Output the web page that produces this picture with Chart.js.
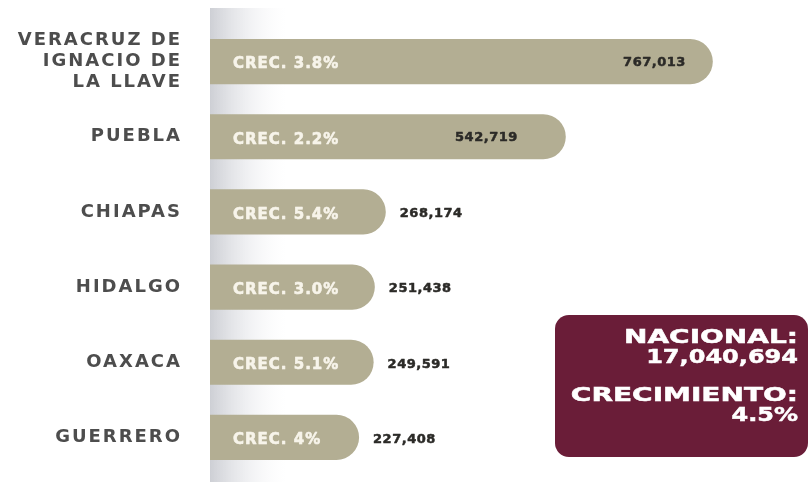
<!DOCTYPE html>
<html lang="es">
<head>
<meta charset="utf-8">
<title>Crecimiento por estado</title>
<script src="https://cdn.jsdelivr.net/npm/chart.js@4.4.1/dist/chart.umd.min.js"></script>
<style>
  html, body { margin: 0; padding: 0; background: #fff; }
  .wrap { position: relative; width: 811px; height: 482px; overflow: hidden; }
  #estadosChart { position: absolute; left: 0; top: 0; }
  .nacional {
    position: absolute; left: 555px; top: 315px; width: 253px; height: 142px;
    background: #6a1d38; border-radius: 14px; box-sizing: border-box;
    padding: 11px 10px 0 0; color: #fff;
    font-family: "DejaVu Sans", sans-serif; font-weight: bold;
    font-size: 20px; line-height: 20px;
    -webkit-text-stroke: 0.5px #fff;
  }
  .nacional div { text-align: right; transform: scaleX(1.4); transform-origin: right center; white-space: nowrap; }
  .nacional div.cifra { transform: scaleX(1.2); }
  .nacional .gap { height: 18px; }
</style>
</head>
<body>
<div class="wrap">
  <canvas id="estadosChart" width="811" height="482"></canvas>
  <div class="nacional">
    <div>NACIONAL:</div>
    <div class="cifra">17,040,694</div>
    <div class="gap"></div>
    <div>CRECIMIENTO:</div>
    <div class="cifra">4.5%</div>
  </div>
</div>
<script>
// Estados con mayor población
const estados = [['VERACRUZ DE', 'IGNACIO DE', 'LA LLAVE'], 'PUEBLA', 'CHIAPAS', 'HIDALGO', 'OAXACA', 'GUERRERO'];
const poblacion = [767013, 542719, 268174, 251438, 249591, 227408];
const crecimiento = ['3.8%', '2.2%', '5.4%', '3.0%', '5.1%', '4%'];

const fuente = '"DejaVu Sans", sans-serif';

// Texto más ancho en todo el lienzo
const espaciadoPlugin = {
    id: 'espaciado',
    beforeDraw(chart) {
        chart.ctx.letterSpacing = '2px';
    }
};

// Franja gris degradada detrás de las barras
const franjaPlugin = {
    id: 'franja',
    beforeDatasetsDraw(chart) {
        const { ctx } = chart;
        const x0 = chart.scales.x.getPixelForValue(0);
        const g = ctx.createLinearGradient(x0, 0, x0 + 85, 0);
        g.addColorStop(0, 'rgba(200,202,208,0.9)');
        g.addColorStop(0.45, 'rgba(228,229,233,0.55)');
        g.addColorStop(1, 'rgba(255,255,255,0)');
        ctx.save();
        ctx.fillStyle = g;
        ctx.fillRect(x0, 8, 85, chart.height - 8);
        ctx.restore();
    }
};

// Texto con trazo para que se vea más grueso
function textoGrueso(ctx, texto, x, y, color, grosor) {
    ctx.fillStyle = color;
    ctx.strokeStyle = color;
    ctx.lineWidth = grosor;
    ctx.lineJoin = 'round';
    ctx.strokeText(texto, x, y);
    ctx.fillText(texto, x, y);
}

// Etiquetas: crecimiento dentro de la barra y población junto al final
const etiquetasPlugin = {
    id: 'etiquetas',
    afterDatasetsDraw(chart) {
        const { ctx } = chart;
        const meta = chart.getDatasetMeta(0);
        ctx.save();
        ctx.textBaseline = 'middle';
        meta.data.forEach((bar, i) => {
            ctx.letterSpacing = '1px';
            ctx.font = `bold 15px ${fuente}`;
            ctx.textAlign = 'left';
            textoGrueso(ctx, 'CREC. ' + crecimiento[i], bar.base + 23, bar.y + 3, '#f7f4ea', 0.6);

            const valor = poblacion[i].toLocaleString('en-US');
            ctx.letterSpacing = '0.5px';
            ctx.font = `bold 13px ${fuente}`;
            if (bar.x - bar.base > 300) {
                ctx.textAlign = 'right';
                textoGrueso(ctx, valor, bar.x - (i === 0 ? 27 : 48), bar.y + 1, '#2b2a27', 0.5);
            } else {
                ctx.textAlign = 'left';
                textoGrueso(ctx, valor, bar.x + 14, bar.y + 2, '#2b2a27', 0.5);
            }
        });
        ctx.restore();
    }
};

new Chart(document.getElementById('estadosChart'), {
    type: 'bar',
    data: {
        labels: estados,
        datasets: [{
            data: poblacion,
            backgroundColor: '#b3ae93',
            borderRadius: 23,
            borderSkipped: 'start',
            categoryPercentage: 0.6,
            barPercentage: 1.0
        }]
    },
    options: {
        indexAxis: 'y',
        responsive: false,
        animation: false,
        layout: { padding: { top: 24, bottom: 7, right: 11, left: 0 } },
        scales: {
            x: {
                display: false,
                min: 0,
                max: 900000
            },
            y: {
                afterFit(scale) {
                    scale.width = 210;
                    scale.paddingTop = 0;
                    scale.paddingBottom = 0;
                },
                grid: { display: false },
                border: { display: false },
                ticks: {
                    padding: 20,
                    color: '#4d4d4d',
                    font: { family: fuente, size: 18, weight: 'bold', lineHeight: 1.18 }
                }
            }
        },
        plugins: {
            legend: { display: false },
            tooltip: { enabled: false }
        }
    },
    plugins: [espaciadoPlugin, franjaPlugin, etiquetasPlugin]
});
</script>
</body>
</html>
